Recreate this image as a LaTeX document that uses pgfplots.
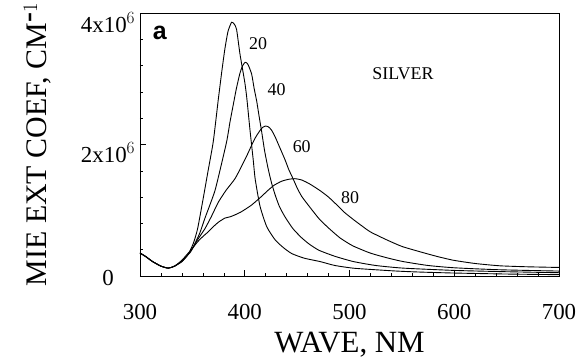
\documentclass[border=0pt]{standalone}
\usepackage{pgfplots}
\pgfplotsset{compat=1.18}
\usepackage{fontspec}
\setmainfont{Liberation Serif}
\newfontfamily\sansbold{Liberation Sans}
\begin{document}
\begin{tikzpicture}
\begin{axis}[
  scale only axis,
  width=419bp, height=263bp,
  xmin=300, xmax=700, ymin=0, ymax=4,
  xtick={300,400,500,600,700},
  xticklabels={300,400,500,600,700},
  minor x tick num=4,
  ytick={0,2,4},
  yticklabels={0,\raisebox{-9bp}{2x10$^{6}$},\raisebox{-10bp}{4x10$^{6}$}},
  minor ytick={0.4,0.8,1.2,1.6,2.4,2.8,3.2,3.6},
  tick align=inside,
  xtick pos=left, ytick pos=left,
  major tick length=6bp, minor tick length=3bp,
  tick style={black, line width=0.5bp},
  axis line style={line width=0.6bp},
  ticklabel style={font=\fontsize{23}{26}\selectfont},
  xticklabel style={anchor=base, yshift=-43bp},
  yticklabel style={anchor=base, xshift=-32bp, yshift=-9bp},
  xlabel={WAVE, NM},
  ylabel={MIE EXT COEF, CM$^{\textbf{-}1}$},
  x label style={font=\fontsize{31}{34}\selectfont, at={(axis description cs:0.5,-0.262)}, anchor=center},
  y label style={font=\fontsize{30}{33}\selectfont, at={(axis description cs:-0.245,0.5)}, anchor=center},
  cycle list={{black}},
  every axis plot post/.append style={black, line width=0.9bp, no markers, smooth, tension=0.35},
]
% 20 nm
\addplot coordinates {(300,0.35)(306,0.29)(312,0.22)(320,0.15)(327,0.12)(333,0.15)(340,0.22)(346,0.33)(351,0.5)(355,0.72)(360,1.15)(365,1.6)(370,2.05)(374.7,2.68)(378,3.1)(381,3.45)(384,3.72)(387.5,3.86)(390,3.83)(392.2,3.75)(395.5,3.37)(400,2.95)(402,2.7)(405,2.22)(408,1.78)(410,1.47)(414.6,1.06)(421,0.75)(429,0.55)(437,0.43)(445,0.34)(457,0.27)(471.8,0.22)(486,0.16)(503,0.12)(520,0.10)(545,0.075)(567,0.06)(600,0.045)(650,0.03)(700,0.02)};
% 40 nm
\addplot coordinates {(300,0.35)(306,0.29)(312,0.22)(320,0.15)(327,0.12)(333,0.15)(340,0.22)(346,0.33)(351,0.45)(357,0.65)(362,0.88)(366,1.05)(371.6,1.3)(377,1.65)(382.8,2.05)(386,2.35)(389.1,2.61)(392,2.85)(395.5,3.09)(398,3.2)(400.5,3.25)(403,3.22)(406.6,3.07)(409,2.85)(411.4,2.66)(414,2.4)(416.1,2.2)(419,1.9)(422.5,1.62)(425.5,1.42)(428.9,1.24)(433,1.06)(438.4,0.9)(446,0.72)(454.4,0.58)(462,0.48)(471,0.39)(486,0.3)(503.6,0.22)(525,0.16)(551,0.12)(600,0.085)(650,0.065)(700,0.05)};
% 60 nm
\addplot coordinates {(300,0.35)(306,0.29)(312,0.22)(320,0.15)(327,0.12)(333,0.15)(340,0.23)(348,0.36)(353,0.5)(357,0.6)(362,0.72)(368,0.9)(374.7,1.12)(382,1.3)(390.7,1.48)(397,1.67)(402,1.83)(406.6,1.99)(410,2.1)(414,2.2)(417,2.26)(419.5,2.28)(422.5,2.27)(425.5,2.22)(428.9,2.12)(433,1.97)(438.4,1.77)(442,1.62)(446.4,1.47)(450,1.34)(454.4,1.21)(462,1.05)(471,0.87)(480,0.73)(490.9,0.58)(503,0.46)(519.6,0.35)(535,0.28)(551,0.22)(575,0.16)(600,0.125)(643,0.095)(700,0.075)};
% 80 nm
\addplot coordinates {(300,0.35)(306,0.29)(312,0.22)(320,0.15)(327,0.12)(333,0.15)(340,0.24)(345,0.33)(350,0.42)(355,0.52)(360,0.6)(365,0.67)(370,0.75)(375,0.82)(381,0.88)(386,0.9)(390.7,0.93)(396,0.97)(401,1.02)(406.6,1.08)(411,1.14)(416,1.21)(422,1.3)(428,1.38)(435,1.44)(441.6,1.47)(448,1.48)(454.4,1.46)(462,1.40)(471.8,1.30)(480,1.20)(488,1.08)(495,0.97)(503.6,0.86)(512,0.76)(520,0.67)(535.5,0.55)(550,0.45)(567,0.37)(583,0.3)(599,0.24)(620,0.19)(643.7,0.155)(670,0.14)(700,0.13)};
\node[font=\fontsize{18}{20}\selectfont] at (axis cs:412.7,3.53) {20};
\node[font=\fontsize{18}{20}\selectfont] at (axis cs:430.5,2.84) {40};
\node[font=\fontsize{18}{20}\selectfont] at (axis cs:454.4,1.97) {60};
\node[font=\fontsize{18}{20}\selectfont] at (axis cs:500.5,1.19) {80};
\node[font=\fontsize{18}{20}\selectfont] at (axis cs:551,3.07) {SILVER};
\node[font=\sansbold\bfseries\fontsize{25}{27}\selectfont] at (axis cs:319,3.7) {a};
\end{axis}
\pgfresetboundingbox
\path (-140bp,-84bp) rectangle (438bp,276bp);
\end{tikzpicture}
\end{document}
